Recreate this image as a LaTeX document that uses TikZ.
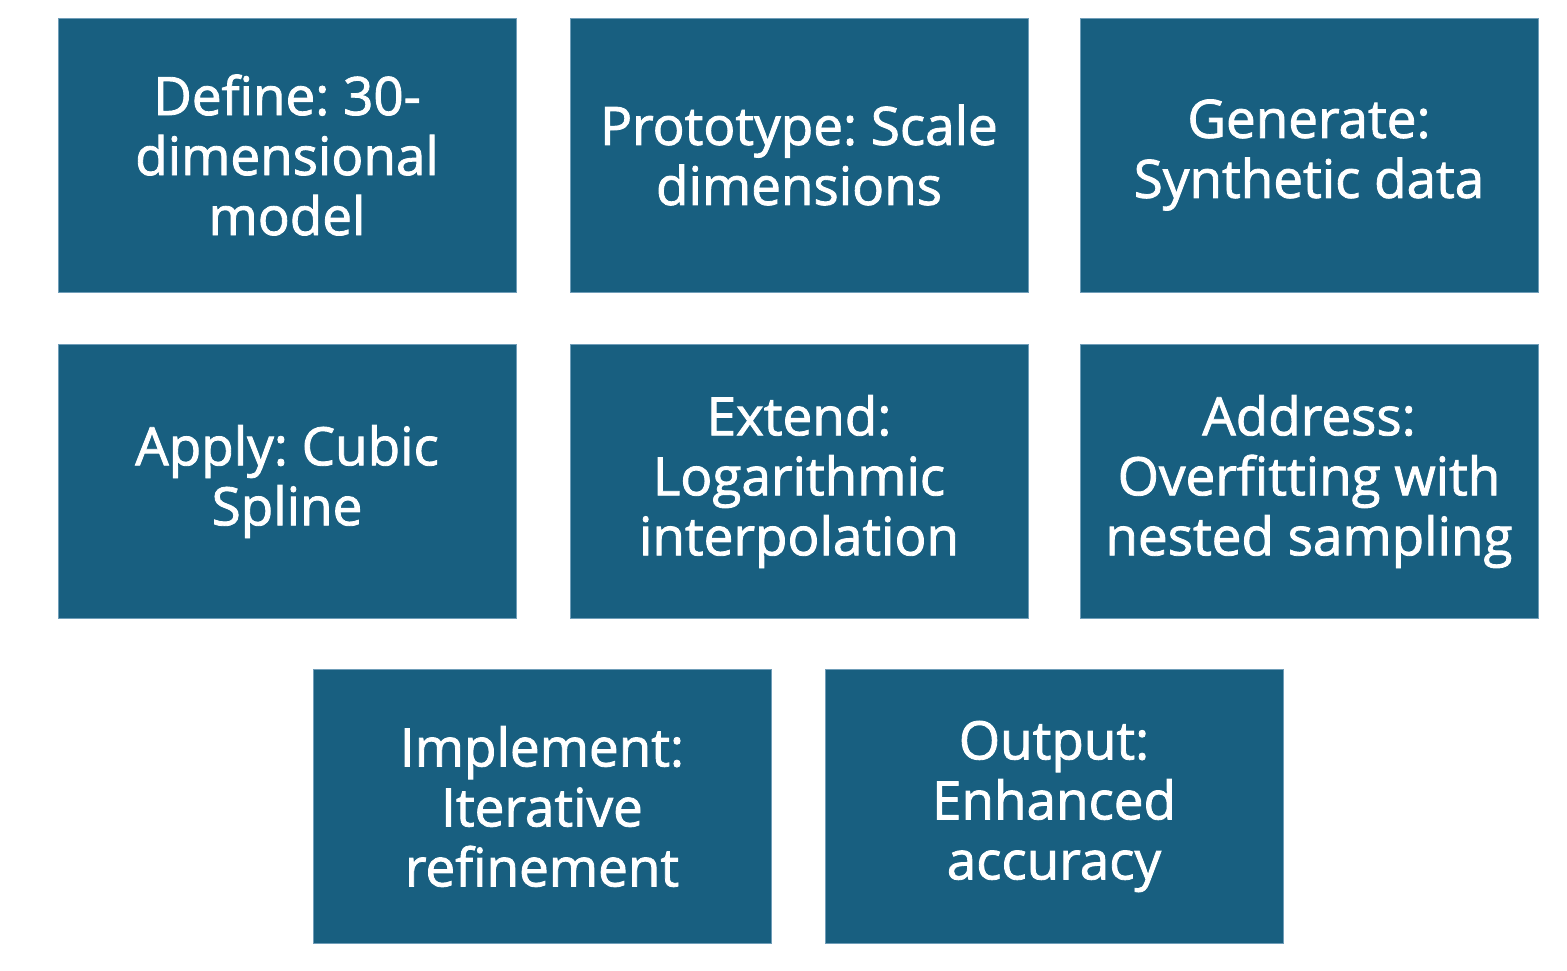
\documentclass[tikz,border=0pt]{standalone}
\usepackage{fontspec}
\setmainfont{Open Sans}[FakeBold=1.6]
\definecolor{boxblue}{HTML}{185F80}
\definecolor{boxedge}{HTML}{6F9DB8}
\frenchspacing
\begin{document}
\begin{tikzpicture}[x=1pt,y=-1pt,
  stepbox/.style={draw=boxedge,line width=0.8pt,fill=boxblue,text=white,
    minimum width=458pt,minimum height=274pt,inner sep=0pt,align=center,
    font=\fontsize{53}{60}\selectfont}]
  \useasboundingbox (0,0) rectangle (1567,970);
  % first row
  \node[stepbox] (define)    at (287,155)   {Define: 30-\\dimensional\\model};
  \node[stepbox] (prototype) at (799,155)   {Prototype: Scale\\dimensions};
  \node[stepbox] (generate)  at (1309,155)  {Generate:\\Synthetic data};
  % second row
  \node[stepbox] (apply)     at (287,481.5) {Apply: Cubic\\Spline};
  \node[stepbox] (extend)    at (799,481.5) {Extend:\\Logarithmic\\interpolation};
  \node[stepbox] (address)   at (1309,481.5){Address:\\Overfitting with\\nested sampling};
  % third row
  \node[stepbox] (implement) at (542,806.5) {Implement:\\Iterative\\refinement};
  \node[stepbox] (output)    at (1054,806.5){Output:\\Enhanced\\accuracy};
\end{tikzpicture}
\end{document}
